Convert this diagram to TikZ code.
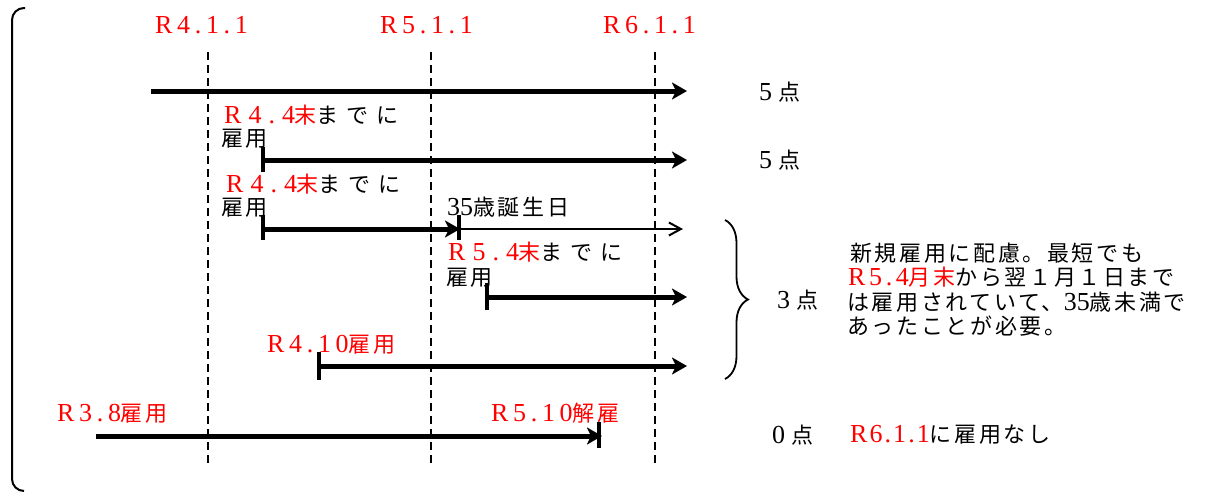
\documentclass[tikz,border=0pt]{standalone}
\usepackage{fontspec}
\setmainfont{Liberation Serif}
\newfontfamily\jp[LetterSpace=12]{Noto Sans CJK JP}
\newfontfamily\jpw[LetterSpace=35]{Noto Sans CJK JP}
\newfontfamily\latsp[LetterSpace=18,Scale=1.18]{Liberation Serif}
\newfontfamily\latw[LetterSpace=27,Scale=1.18]{Liberation Serif}
\newfontfamily\latc[LetterSpace=14,Scale=1.18]{Liberation Serif}
\newfontfamily\latm[LetterSpace=8,Scale=1.18]{Liberation Serif}
\newfontfamily\latn[Scale=1.18]{Liberation Serif}
\usetikzlibrary{arrows.meta,decorations.pathreplacing}
\definecolor{rd}{RGB}{255,0,0}
\newcommand\Ls[1]{{\latsp #1}}
\newcommand\Lw[1]{{\latw #1}}
\newcommand\Lc[1]{{\latc #1}}
\newcommand\Lm[1]{{\latm #1}}
\newcommand\Ln[1]{{\latn #1}}
\newcommand\Jw[1]{{\jpw #1}}
\newcommand\Rd[1]{{\color{rd}#1}}
\begin{document}
\begin{tikzpicture}[x=1pt,y=-1pt,
  txt/.style={inner sep=0pt, anchor=base west, font=\fontsize{22}{24.5}\selectfont\jp},
  guide/.style={line width=2.2pt, dash pattern=on 8pt off 5pt},
  spanarr/.style={line width=5pt, -{Stealth[length=15pt,width=17pt,inset=4pt]}},
  thinspan/.style={line width=2pt, -{Straight Barb[length=12pt,width=13pt]}},
  tickbar/.style={line width=4.5pt},
  bracket/.style={line width=2pt, rounded corners=12pt},
  bracestyle/.style={line width=1.8pt, decorate, decoration={brace, amplitude=23pt}}
  ]
\useasboundingbox (0,0) rectangle (1211,493);

% left bracket
\coordinate (k1) at (25,8);
\coordinate (k2) at (12,8);
\coordinate (k3) at (12,491);
\coordinate (k4) at (24,491);
\draw[bracket] (k1) -- (k2) -- (k3) -- (k4);

% guides
\foreach \x/\n in {208/1,431/2,655/3}{
  \coordinate (g\n t) at (\x,52);
  \coordinate (g\n b) at (\x,467);
  \draw[guide] (g\n t) -- (g\n b);
}
\node[txt,text=rd] (t1) at (155,33) {\Ls{R4.1.1}};
\node[txt,text=rd] (t2) at (380,33) {\Ls{R5.1.1}};
\node[txt,text=rd] (t3) at (603,33) {\Ls{R6.1.1}};

% row 1
\coordinate (a1s) at (151,91);
\coordinate (a1e) at (687,91);
\draw[spanarr] (a1s) -- (a1e);
\node[txt] (p1) at (759,100) {\Ls{5}\hspace{6pt}点};

% row 2
\node[txt] (l2a) at (224,123) {\Rd{\Lw{R4.4}\Jw{末}}\Jw{までに}};
\node[txt] (l2b) at (221,146) {雇用};
\coordinate (a2s) at (263,160);
\coordinate (a2e) at (687,160);
\draw[spanarr] (a2s) -- (a2e);
\draw[tickbar] ([yshift=13pt]a2s) -- ([yshift=-12pt]a2s);
\node[txt] (p2) at (759,168) {\Ls{5}\hspace{6pt}点};

% row 3
\node[txt] (l3a) at (226,192) {\Rd{\Lw{R4.4}\Jw{末}}\Jw{までに}};
\node[txt] (l3b) at (221,215) {雇用};
\coordinate (a3s) at (263,229);
\coordinate (a3m) at (460,229);
\coordinate (a3e) at (683,229);
\draw[spanarr] (a3s) -- (a3m);
\draw[thinspan] (a3m) -- (a3e);
\draw[tickbar] ([yshift=14pt]a3s) -- ([yshift=-11pt]a3s);
\draw[tickbar] ([xshift=-1pt,yshift=14pt]a3m) -- ([xshift=-1pt,yshift=-11pt]a3m);
\node[txt] (bd) at (447,215) {\Ln{35}歳誕生日};

% row 4
\node[txt] (l4a) at (448,260) {\Rd{\Lw{R5.4}\Jw{末}}\Jw{までに}};
\node[txt] (l4b) at (446,285) {雇用};
\coordinate (a4s) at (487,297);
\coordinate (a4e) at (687,297);
\draw[spanarr] (a4s) -- (a4e);
\draw[tickbar] ([yshift=14pt]a4s) -- ([yshift=-13pt]a4s);

% row 5
\node[txt] (l5) at (267,352) {\Rd{\Ls{R4.10}雇用}};
\coordinate (a5s) at (319,366);
\coordinate (a5e) at (687,366);
\draw[spanarr] (a5s) -- (a5e);
\draw[tickbar] ([yshift=14pt]a5s) -- ([yshift=-14pt]a5s);

% brace and 3 points
\coordinate (b1) at (725,220);
\coordinate (b2) at (725,379);
\draw[bracestyle] (b1) -- (b2);
\node[txt] (p3) at (777,308) {\Ls{3}\hspace{6pt}点};
\node[txt] (c1) at (850,261) {新規雇用に配慮。最短でも};
\node[txt] (c2) at (848,285) {\Rd{\Lc{R5.4}月末}から翌１月１日まで};
\node[txt] (c3) at (847,310) {は雇用されていて、\Ln{35}歳未満で};
\node[txt] (c4) at (847,334) {あったことが必要。};

% row 6
\node[txt] (l6a) at (57,421) {\Rd{\Ls{R3.8}雇用}};
\node[txt] (l6b) at (491,421) {\Rd{\Ls{R5.10}解雇}};
\coordinate (a6s) at (96,436);
\coordinate (a6e) at (602,436);
\draw[spanarr] (a6s) -- (a6e);
\coordinate (a6t) at (599,436);
\draw[tickbar] ([yshift=14pt]a6t) -- ([yshift=-12pt]a6t);
\node[txt] (p0) at (772,443) {\Ls{0}\hspace{6pt}点};
\node[txt] (n0) at (850,442) {\Rd{\Lm{R6.1.1}}に雇用なし};
\end{tikzpicture}
\end{document}
